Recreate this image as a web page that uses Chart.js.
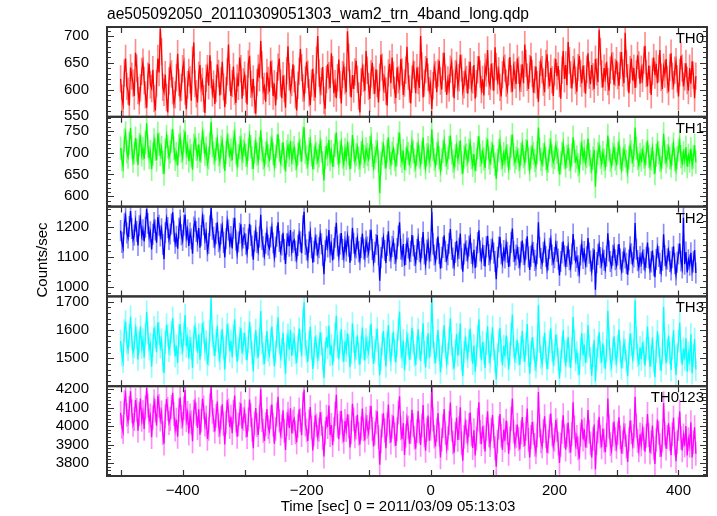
<!DOCTYPE html>
<html>
<head>
<meta charset="utf-8">
<title>WAM light curve</title>
<script src="https://cdn.jsdelivr.net/npm/chart.js@4.4.1/dist/chart.umd.min.js"></script>
<style>
    html, body { margin: 0; padding: 0; background: #ffffff; }
    #lcCanvas { display: block; }
</style>
</head>
<body>
<canvas id="lcCanvas" width="717" height="516"></canvas>
<script>
// Light curve values (counts/sec), one 2 s sample per entry, starting at t = -500 s
const th0 = [
    620, 584, 572, 631, 658, 606, 597, 570, 641, 625, 612, 588, 669, 640, 598, 579, 603, 634, 651, 617,
    590, 566, 625, 648, 609, 602, 637, 583, 561, 612, 658, 632, 714, 671, 604, 595, 628, 585, 557, 616,
    643, 629, 598, 574, 590, 622, 667, 613, 586, 604, 639, 651, 597, 563, 609, 632, 618, 579, 655, 688,
    611, 592, 576, 627, 646, 603, 615, 583, 556, 621, 639, 607, 664, 628, 594, 610, 573, 602, 647, 630,
    589, 616, 652, 605, 567, 598, 633, 684, 622, 588, 611, 643, 597, 575, 621, 606, 660, 639, 583, 614,
    627, 601, 572, 648, 663, 610, 594, 620, 581, 555, 613, 640, 622, 691, 646, 598, 606, 577, 632, 617,
    596, 653, 629, 588, 611, 570, 607, 642, 658, 612, 584, 626, 602, 566, 635, 681, 624, 599, 613, 647,
    620, 590, 561, 608, 634, 676, 641, 603, 587, 618, 652, 629, 594, 571, 612, 639, 604, 585, 655, 700,
    631, 598, 615, 642, 580, 564, 619, 647, 626, 603, 668, 637, 593, 611, 584, 622, 656, 609, 574, 628,
    643, 617, 595, 709, 660, 612, 585, 627, 601, 633, 654, 619, 588, 557, 614, 640, 621, 598, 672, 636,
    606, 583, 629, 650, 617, 592, 638, 611, 576, 623, 665, 642, 604, 619, 597, 570, 631, 648, 612, 660,
    627, 599, 584, 641, 618, 606, 657, 633, 590, 612, 636, 680, 625, 601, 574, 619, 646, 628, 593, 641,
    617, 603, 700, 644, 585, 612, 637, 659, 623, 598, 611, 563, 607, 642, 628, 595, 631, 654, 616, 600,
    643, 669, 621, 590, 618, 603, 638, 651, 612, 584, 629, 645, 606, 622, 665, 640, 597, 609, 633, 619,
    592, 627, 652, 604, 618, 646, 583, 611, 637, 662, 629, 600, 619, 589, 642, 631, 674, 615, 606, 648,
    624, 598, 679, 643, 617, 635, 604, 587, 628, 655, 640, 612, 599, 633, 661, 620, 596, 642, 627, 610,
    658, 636, 605, 621, 647, 612, 684, 649, 623, 601, 639, 662, 630, 594, 618, 643, 609, 577, 628, 651,
    637, 614, 595, 649, 666, 627, 606, 640, 618, 588, 633, 657, 625, 644, 611, 583, 636, 672, 620, 646,
    608, 689, 654, 628, 602, 637, 651, 617, 596, 641, 663, 630, 612, 645, 620, 592, 638, 668, 627, 610,
    646, 624, 601, 657, 633, 614, 712, 671, 629, 604, 640, 623, 652, 615, 598, 636, 661, 644, 609, 632,
    654, 626, 607, 645, 670, 631, 612, 706, 648, 622, 593, 637, 658, 617, 640, 603, 629, 664, 646, 611,
    638, 621, 655, 682, 630, 606, 645, 619, 590, 634, 660, 627, 648, 612, 639, 674, 623, 601, 642, 629,
    657, 618, 596, 641, 668, 625, 609, 636, 652, 620, 587, 632, 663, 640, 606, 624, 649, 617, 598, 640,
    611, 653, 627, 584, 625
];
const th1 = [
    711, 684, 668, 729, 746, 702, 690, 722, 757, 713, 681, 699, 734, 706, 672, 719, 741, 695, 710, 686,
    724, 768, 715, 689, 703, 662, 697, 730, 708, 683, 745, 720, 696, 712, 678, 651, 706, 738, 714, 690,
    702, 727, 755, 711, 685, 698, 671, 717, 736, 704, 689, 727, 749, 699, 715, 681, 706, 693, 661, 718,
    733, 708, 692, 719, 680, 703, 746, 725, 697, 711, 674, 688, 722, 771, 716, 699, 684, 709, 731, 695,
    680, 713, 727, 690, 658, 701, 736, 718, 694, 707, 683, 725, 744, 700, 671, 693, 712, 730, 686, 704,
    719, 694, 676, 708, 739, 714, 689, 663, 702, 725, 697, 681, 710, 752, 706, 688, 673, 699, 721, 693,
    684, 711, 731, 698, 670, 692, 715, 743, 705, 679, 696, 724, 688, 657, 703, 716, 694, 727, 683, 700,
    712, 686, 669, 697, 722, 706, 680, 734, 759, 701, 690, 674, 709, 728, 695, 662, 688, 714, 699, 681,
    693, 725, 704, 677, 636, 689, 711, 696, 730, 684, 703, 668, 694, 717, 747, 699, 676, 702, 723, 690,
    674, 708, 687, 719, 698, 662, 690, 741, 706, 681, 695, 713, 688, 671, 700, 724, 692, 679, 709, 696,
    685, 712, 733, 694, 667, 688, 703, 720, 681, 607, 676, 698, 717, 690, 664, 704, 736, 689, 675, 699,
    710, 684, 672, 695, 722, 746, 693, 680, 705, 661, 686, 711, 698, 676, 691, 725, 702, 683, 668, 697,
    719, 690, 674, 701, 735, 688, 665, 696, 712, 680, 693, 754, 707, 685, 671, 698, 720, 689, 659, 684,
    703, 727, 694, 676, 688, 712, 740, 699, 681, 667, 693, 715, 686, 700, 729, 677, 652, 690, 711, 695,
    680, 706, 723, 689, 671, 697, 658, 684, 712, 738, 694, 679, 702, 686, 665, 709, 731, 688, 676, 699,
    716, 691, 674, 640, 683, 705, 726, 689, 672, 698, 681, 711, 693, 664, 687, 715, 742, 696, 679, 688,
    703, 684, 668, 697, 720, 691, 677, 705, 729, 686, 661, 690, 712, 699, 682, 670, 700, 758, 708, 685,
    674, 696, 715, 687, 662, 681, 707, 724, 693, 678, 689, 716, 701, 684, 650, 677, 698, 721, 689, 670,
    692, 711, 684, 667, 695, 736, 703, 681, 690, 672, 658, 699, 719, 686, 704, 677, 692, 733, 696, 680,
    661, 688, 707, 622, 679, 698, 715, 690, 676, 701, 684, 668, 694, 740, 706, 683, 671, 697, 712, 686,
    675, 699, 721, 688, 663, 684, 707, 693, 680, 656, 689, 716, 702, 681, 694, 758, 711, 687, 672, 696,
    683, 705, 690, 674, 698, 728, 692, 669, 686, 710, 677, 652, 694, 719, 700, 683, 666, 690, 744, 702,
    679, 693, 711, 688, 670, 697, 720, 684, 661, 689, 706, 727, 691, 676, 700, 682, 713, 668, 694, 681,
    709, 672, 690, 718, 678
];
const th2 = [
    1187, 1148, 1129, 1210, 1236, 1179, 1163, 1201, 1252, 1194, 1156, 1172, 1219, 1184, 1138, 1203, 1228, 1170, 1190, 1151,
    1198, 1260, 1211, 1166, 1183, 1124, 1175, 1214, 1189, 1147, 1232, 1205, 1169, 1193, 1141, 1092, 1180, 1226, 1197, 1158,
    1176, 1209, 1248, 1185, 1145, 1168, 1127, 1195, 1222, 1173, 1154, 1206, 1240, 1165, 1190, 1136, 1179, 1160, 1110, 1199,
    1218, 1184, 1152, 1196, 1130, 1171, 1233, 1206, 1158, 1180, 1119, 1144, 1203, 1262, 1192, 1165, 1139, 1177, 1215, 1150,
    1131, 1176, 1201, 1148, 1098, 1160, 1219, 1189, 1143, 1167, 1128, 1195, 1230, 1155, 1111, 1149, 1178, 1208, 1137, 1163,
    1174, 1142, 1113, 1159, 1210, 1171, 1136, 1090, 1152, 1188, 1147, 1121, 1166, 1240, 1158, 1133, 1105, 1145, 1183, 1139,
    1128, 1166, 1197, 1146, 1099, 1132, 1168, 1215, 1151, 1117, 1139, 1180, 1124, 1076, 1143, 1170, 1135, 1189, 1120, 1148,
    1156, 1119, 1094, 1138, 1177, 1150, 1112, 1203, 1250, 1141, 1123, 1097, 1149, 1182, 1130, 1080, 1118, 1162, 1139, 1110,
    1130, 1174, 1143, 1104, 1042, 1120, 1158, 1133, 1189, 1115, 1140, 1088, 1127, 1165, 1213, 1136, 1101, 1142, 1179, 1124,
    1098, 1150, 1119, 1168, 1135, 1080, 1122, 1196, 1145, 1108, 1129, 1161, 1117, 1090, 1131, 1177, 1126, 1100, 1152, 1132,
    1113, 1156, 1190, 1124, 1083, 1115, 1141, 1172, 1106, 1020, 1097, 1130, 1163, 1121, 1079, 1138, 1185, 1119, 1096, 1134,
    1152, 1110, 1088, 1127, 1169, 1215, 1125, 1101, 1142, 1070, 1108, 1150, 1129, 1093, 1118, 1172, 1136, 1104, 1081, 1124,
    1160, 1117, 1090, 1130, 1182, 1109, 1074, 1122, 1148, 1095, 1119, 1250, 1143, 1106, 1085, 1126, 1167, 1111, 1060, 1098,
    1131, 1171, 1118, 1089, 1107, 1145, 1192, 1124, 1096, 1071, 1114, 1153, 1102, 1128, 1177, 1093, 1050, 1109, 1140, 1120,
    1095, 1136, 1163, 1111, 1080, 1123, 1062, 1100, 1147, 1188, 1119, 1092, 1130, 1104, 1068, 1133, 1170, 1107, 1087, 1125,
    1150, 1112, 1084, 1025, 1098, 1132, 1166, 1109, 1079, 1121, 1096, 1144, 1115, 1066, 1103, 1148, 1194, 1118, 1090, 1106,
    1127, 1097, 1072, 1116, 1154, 1108, 1083, 1125, 1168, 1099, 1056, 1102, 1139, 1114, 1088, 1069, 1110, 1215, 1131, 1094,
    1078, 1115, 1146, 1101, 1060, 1089, 1128, 1157, 1106, 1081, 1097, 1142, 1118, 1092, 1038, 1084, 1113, 1151, 1103, 1073,
    1101, 1133, 1090, 1065, 1109, 1176, 1122, 1085, 1098, 1070, 1047, 1106, 1141, 1094, 1117, 1075, 1100, 1162, 1112, 1086,
    1052, 1093, 1124, 990, 1081, 1108, 1137, 1097, 1074, 1115, 1088, 1061, 1102, 1178, 1119, 1084, 1068, 1105, 1131, 1090,
    1071, 1106, 1142, 1093, 1055, 1082, 1117, 1096, 1078, 1040, 1089, 1133, 1110, 1080, 1099, 1212, 1125, 1087, 1064, 1101,
    1079, 1112, 1090, 1062, 1098, 1147, 1096, 1058, 1083, 1121, 1070, 1032, 1091, 1130, 1101, 1078, 1050, 1088, 1175, 1104,
    1069, 1093, 1120, 1084, 1056, 1097, 1135, 1077, 1039, 1082, 1109, 1144, 1086, 1063, 1230, 1075, 1116, 1048, 1090, 1072,
    1113, 1054, 1083, 1122, 1046
];
const th3 = [
    1561, 1512, 1488, 1598, 1630, 1554, 1530, 1581, 1647, 1569, 1519, 1540, 1604, 1573, 1496, 1557, 1612, 1538, 1566, 1502,
    1583, 1664, 1590, 1533, 1551, 1470, 1545, 1609, 1575, 1521, 1627, 1588, 1539, 1565, 1492, 1447, 1556, 1618, 1580, 1527,
    1549, 1593, 1642, 1568, 1507, 1544, 1483, 1579, 1621, 1553, 1528, 1586, 1653, 1542, 1570, 1499, 1562, 1535, 1466, 1576,
    1610, 1567, 1520, 1584, 1495, 1548, 1625, 1592, 1531, 1559, 1478, 1513, 1597, 1712, 1577, 1546, 1508, 1563, 1615, 1529,
    1498, 1557, 1603, 1536, 1460, 1543, 1620, 1585, 1525, 1561, 1504, 1580, 1638, 1547, 1487, 1532, 1571, 1606, 1518, 1552,
    1589, 1534, 1493, 1558, 1629, 1573, 1520, 1454, 1545, 1600, 1538, 1502, 1566, 1667, 1555, 1517, 1480, 1541, 1596, 1528,
    1511, 1566, 1612, 1540, 1472, 1523, 1578, 1645, 1553, 1505, 1532, 1590, 1515, 1445, 1547, 1583, 1530, 1601, 1509, 1550,
    1572, 1519, 1483, 1544, 1605, 1562, 1507, 1632, 1698, 1549, 1524, 1488, 1558, 1611, 1536, 1462, 1514, 1577, 1543, 1501,
    1531, 1592, 1551, 1496, 1430, 1520, 1574, 1537, 1615, 1512, 1546, 1475, 1529, 1584, 1650, 1541, 1497, 1555, 1603, 1526,
    1489, 1560, 1527, 1588, 1545, 1468, 1521, 1623, 1559, 1503, 1535, 1581, 1516, 1478, 1540, 1609, 1533, 1492, 1566, 1538,
    1520, 1577, 1622, 1538, 1480, 1526, 1563, 1605, 1514, 1440, 1497, 1550, 1596, 1532, 1471, 1556, 1618, 1529, 1493, 1548,
    1594, 1527, 1485, 1545, 1603, 1665, 1541, 1506, 1563, 1458, 1518, 1580, 1549, 1495, 1534, 1608, 1556, 1510, 1476, 1539,
    1603, 1535, 1490, 1553, 1624, 1521, 1467, 1537, 1588, 1502, 1544, 1716, 1576, 1519, 1483, 1542, 1600, 1530, 1450, 1508,
    1560, 1617, 1538, 1482, 1515, 1570, 1641, 1547, 1499, 1463, 1526, 1585, 1510, 1550, 1623, 1494, 1436, 1521, 1567, 1536,
    1505, 1562, 1604, 1529, 1481, 1545, 1452, 1511, 1578, 1638, 1540, 1493, 1557, 1518, 1466, 1552, 1613, 1523, 1489, 1547,
    1610, 1533, 1490, 1425, 1512, 1561, 1607, 1528, 1475, 1543, 1507, 1580, 1536, 1460, 1517, 1586, 1655, 1541, 1498, 1522,
    1565, 1514, 1477, 1539, 1596, 1527, 1488, 1551, 1621, 1509, 1445, 1519, 1574, 1534, 1495, 1468, 1530, 1688, 1559, 1503,
    1480, 1537, 1590, 1522, 1461, 1501, 1559, 1606, 1529, 1486, 1512, 1583, 1546, 1497, 1428, 1490, 1538, 1599, 1524, 1471,
    1527, 1575, 1508, 1466, 1534, 1646, 1560, 1494, 1520, 1478, 1442, 1532, 1588, 1511, 1548, 1483, 1525, 1617, 1543, 1500,
    1438, 1509, 1564, 1418, 1497, 1540, 1592, 1521, 1485, 1553, 1506, 1462, 1528, 1668, 1570, 1496, 1473, 1531, 1578, 1515,
    1487, 1543, 1601, 1526, 1464, 1504, 1557, 1529, 1491, 1436, 1515, 1587, 1548, 1499, 1531, 1705, 1572, 1510, 1476, 1538,
    1497, 1556, 1521, 1474, 1532, 1612, 1535, 1470, 1508, 1573, 1489, 1433, 1522, 1595, 1544, 1498, 1455, 1517, 1681, 1550,
    1482, 1528, 1580, 1519, 1458, 1536, 1599, 1505, 1441, 1512, 1560, 1626, 1524, 1477, 1533, 1496, 1571, 1452, 1518, 1493,
    1585, 1447, 1509, 1568, 1460
];
const th0123 = [
    4072, 3996, 3968, 4130, 4175, 4061, 4025, 4098, 4190, 4080, 4007, 4039, 4142, 4088, 3975, 4066, 4150, 4034, 4077, 3985,
    4101, 4208, 4112, 4029, 4058, 3940, 4047, 4136, 4084, 4003, 4165, 4110, 4036, 4075, 3962, 3905, 4053, 4147, 4093, 4017,
    4040, 4104, 4181, 4066, 3981, 4035, 3942, 4086, 4155, 4050, 4012, 4097, 4196, 4031, 4072, 3960, 4058, 4021, 3918, 4079,
    4130, 4065, 3990, 4092, 3953, 4030, 4148, 4101, 4009, 4047, 3931, 3985, 4114, 4212, 4078, 4032, 3971, 4056, 4133, 4004,
    3966, 4045, 4119, 4013, 3900, 4020, 4140, 4085, 3995, 4051, 3962, 4079, 4166, 4030, 3942, 4008, 4067, 4124, 3986, 4038,
    4080, 4002, 3941, 4035, 4144, 4060, 3981, 3880, 4015, 4098, 4006, 3952, 4049, 4201, 4033, 3975, 3920, 4010, 4093, 3994,
    3970, 4049, 4118, 4008, 3904, 3985, 4063, 4160, 4030, 3958, 3999, 4086, 3975, 3870, 4011, 4068, 3990, 4097, 3962, 4024,
    4040, 3966, 3912, 4002, 4091, 4033, 3951, 4120, 4198, 4010, 3977, 3920, 4025, 4104, 3992, 3868, 3955, 4059, 4004, 3940,
    3980, 4075, 4013, 3934, 3835, 3964, 4051, 3995, 4112, 3952, 4006, 3897, 3983, 4066, 4170, 4002, 3929, 4018, 4083, 3971,
    3915, 4028, 3978, 4064, 3999, 3884, 3966, 4122, 4037, 3945, 3992, 4061, 3958, 3901, 3987, 4095, 3981, 3922, 4040, 3996,
    3964, 4047, 4109, 3985, 3890, 3961, 4022, 4081, 3940, 3790, 3918, 4003, 4070, 3976, 3880, 4009, 4118, 3970, 3911, 3998,
    4056, 3955, 3893, 3983, 4074, 4162, 3988, 3929, 4017, 3843, 3948, 4041, 3993, 3905, 3968, 4089, 4005, 3937, 3878, 3974,
    4082, 3971, 3898, 4004, 4115, 3950, 3866, 3980, 4058, 3921, 3985, 4215, 4036, 3943, 3889, 3979, 4071, 3955, 3830, 3927,
    4000, 4093, 3962, 3880, 3934, 4017, 4128, 3981, 3911, 3856, 3958, 4046, 3925, 3989, 4102, 3906, 3812, 3942, 4019, 3970,
    3920, 4006, 4074, 3955, 3881, 3978, 3840, 3933, 4035, 4130, 3968, 3902, 3999, 3940, 3862, 3985, 4080, 3950, 3897, 3981,
    4060, 3945, 3880, 3780, 3915, 3992, 4066, 3948, 3870, 3980, 3921, 4030, 3962, 3850, 3935, 4040, 4150, 3970, 3900, 3944,
    4008, 3930, 3875, 3966, 4050, 3952, 3892, 3985, 4095, 3925, 3830, 3941, 4022, 3961, 3898, 3858, 3950, 4185, 4002, 3917,
    3890, 3973, 4054, 3946, 3855, 3915, 4000, 4068, 3955, 3888, 3926, 4033, 3978, 3905, 3800, 3899, 3968, 4059, 3944, 3872,
    3950, 4020, 3918, 3857, 3958, 4130, 3993, 3900, 3941, 3879, 3823, 3954, 4036, 3927, 3982, 3884, 3946, 4088, 3969, 3906,
    3830, 3931, 4009, 3765, 3908, 3970, 4051, 3943, 3885, 3987, 3921, 3858, 3952, 4150, 3998, 3902, 3866, 3955, 4025, 3930,
    3886, 3962, 4048, 3940, 3852, 3913, 3993, 3951, 3890, 3805, 3928, 4030, 3967, 3899, 3945, 4160, 4002, 3919, 3868, 3955,
    3900, 3985, 3932, 3861, 3947, 4066, 3951, 3856, 3912, 4003, 3879, 3795, 3925, 4036, 3963, 3897, 3834, 3922, 4125, 3960,
    3878, 3941, 4015, 3930, 3842, 3956, 4046, 3905, 3810, 3913, 3984, 4080, 3936, 3868, 3950, 3894, 4000, 3840, 3929, 3893,
    4021, 3830, 3912, 3994, 3850
];

// Time binning (sec from 2011/03/09 05:13:03)
const binStart = -500;
const binSize = 2;

// Panel names, colours, typical 1-sigma error per bin
const seriesNames = ["TH0", "TH1", "TH2", "TH3", "TH0123"];
const seriesColors = ["#ff0000", "#00ff00", "#0000ff", "#00ffff", "#ff00ff"];
const errorColors = [
    "rgba(255, 0, 0, 0.45)",
    "rgba(0, 255, 0, 0.45)",
    "rgba(0, 0, 255, 0.45)",
    "rgba(0, 255, 255, 0.45)",
    "rgba(255, 0, 255, 0.45)",
];
const errorSizes = [25, 26, 34, 39, 63];

// Axis ranges and tick labels
const xRange = [-522, 446];
const xTickLabels = [-400, -200, 0, 200, 400];
const xTickMarks = [-500, -400, -300, -200, -100, 0, 100, 200, 300, 400];
const yRanges = [[549, 717], [576, 783], [968, 1267], [1401, 1719], [3729, 4217]];
const yTickLabels = [
    [550, 600, 650, 700],
    [600, 650, 700, 750],
    [1000, 1100, 1200],
    [1500, 1600, 1700],
    [3800, 3900, 4000, 4100, 4200],
];
const yMinorStep = [10, 10, 20, 20, 20];

const FONT = "'Liberation Sans', Arial, Helvetica, sans-serif";
Chart.defaults.font.family = FONT;
Chart.defaults.color = "#000000";

const allValues = [th0, th1, th2, th3, th0123];
const times = th0.map((_, i) => binStart + i * binSize);

// Build one line + one error-bar dataset per panel
const datasets = [];
allValues.forEach((values, i) => {
    datasets.push({
        type: "line",
        label: seriesNames[i],
        data: values.map((v, k) => ({ x: times[k], y: v })),
        yAxisID: "y" + i,
        borderColor: seriesColors[i],
        borderWidth: 1.3,
        pointRadius: 0,
        tension: 0,
        clip: 0,
        order: 0,
    });
    datasets.push({
        type: "bar",
        label: seriesNames[i] + " err",
        data: values.map((v, k) => ({
            x: times[k],
            y: [v - errorSizes[i], v + errorSizes[i]],
        })),
        yAxisID: "y" + i,
        backgroundColor: errorColors[i],
        borderWidth: 0,
        barThickness: 1,
        grouped: false,
        clip: 0,
        order: 1,
    });
});

const scales = {
    x: {
        type: "linear",
        position: "bottom",
        min: xRange[0],
        max: xRange[1],
        offset: false,
        grid: { display: false },
        border: { display: false },
        afterBuildTicks: (scale) => {
            scale.ticks = xTickLabels.map((v) => ({ value: v }));
        },
        afterFit: (scale) => {
            scale.height = 40;
        },
        ticks: {
            font: { size: 15 },
            color: "#000000",
            padding: -2,
            maxRotation: 0,
            callback: (v) => String(v).replace("-", "\u2212"),
        },
    },
};
seriesNames.forEach((name, i) => {
    scales["y" + i] = {
        type: "linear",
        position: "left",
        stack: "panels",
        stackWeight: 1,
        weight: seriesNames.length - i,
        min: yRanges[i][0],
        max: yRanges[i][1],
        grid: { display: false },
        border: { display: false },
        afterBuildTicks: (scale) => {
            scale.ticks = yTickLabels[i].map((v) => ({ value: v }));
        },
        afterFit: (scale) => {
            scale.width = 97;
        },
        ticks: {
            font: { size: 15 },
            color: "#000000",
            padding: 10,
            autoSkip: false,
            callback: (v) => String(v),
        },
    };
});

// Panel frames with inward tick marks on all four sides
const qdpFrame = {
    id: "qdpFrame",
    afterDatasetsDraw(chart) {
        const { ctx, chartArea } = chart;
        const xs = chart.scales.x;
        ctx.save();
        ctx.strokeStyle = "#333333";
        seriesNames.forEach((name, i) => {
            const ys = chart.scales["y" + i];
            const top = ys.top;
            const bottom = ys.bottom;

            ctx.lineWidth = 1.2;
            ctx.beginPath();
            xTickMarks.forEach((t) => {
                const px = Math.round(xs.getPixelForValue(t)) + 0.5;
                ctx.moveTo(px, top);
                ctx.lineTo(px, top + 6);
                ctx.moveTo(px, bottom);
                ctx.lineTo(px, bottom - 6);
            });

            const step = yMinorStep[i];
            for (let v = Math.ceil(ys.min / step) * step; v <= ys.max; v += step) {
                const py = Math.round(ys.getPixelForValue(v)) + 0.5;
                const len = yTickLabels[i].includes(v) ? 7 : 4;
                ctx.moveTo(chartArea.left, py);
                ctx.lineTo(chartArea.left + len, py);
                ctx.moveTo(chartArea.right, py);
                ctx.lineTo(chartArea.right - len, py);
            }
            ctx.stroke();

            ctx.lineWidth = 2;
            ctx.strokeRect(chartArea.left, top, chartArea.right - chartArea.left, bottom - top);
        });
        ctx.restore();
    },
    afterDraw(chart) {
        const { ctx, chartArea } = chart;
        ctx.save();
        ctx.fillStyle = "#000000";

        // file name on top
        ctx.font = "15.6px " + FONT;
        ctx.textAlign = "left";
        ctx.textBaseline = "alphabetic";
        ctx.fillText("ae505092050_20110309051303_wam2_trn_4band_long.qdp", chartArea.left, 19);

        // panel labels
        ctx.font = "15px " + FONT;
        ctx.textAlign = "right";
        seriesNames.forEach((name, i) => {
            const ys = chart.scales["y" + i];
            ctx.fillText(name, chartArea.right - 3, ys.top + 16);
        });

        // x axis title
        ctx.textAlign = "center";
        ctx.fillText("Time [sec] 0 = 2011/03/09 05:13:03", 398, 511);

        // y axis title
        ctx.translate(46.5, 260);
        ctx.rotate(-Math.PI / 2);
        ctx.fillText("Counts/sec", 0, 0);
        ctx.restore();
    },
};

new Chart(document.getElementById("lcCanvas"), {
    type: "line",
    data: { datasets },
    options: {
        responsive: false,
        animation: false,
        normalized: true,
        events: [],
        layout: { padding: { top: 27, left: 10, right: 10, bottom: 0 } },
        plugins: {
            legend: { display: false },
            tooltip: { enabled: false },
            title: { display: false },
        },
        scales,
    },
    plugins: [qdpFrame],
});
</script>
</body>
</html>
